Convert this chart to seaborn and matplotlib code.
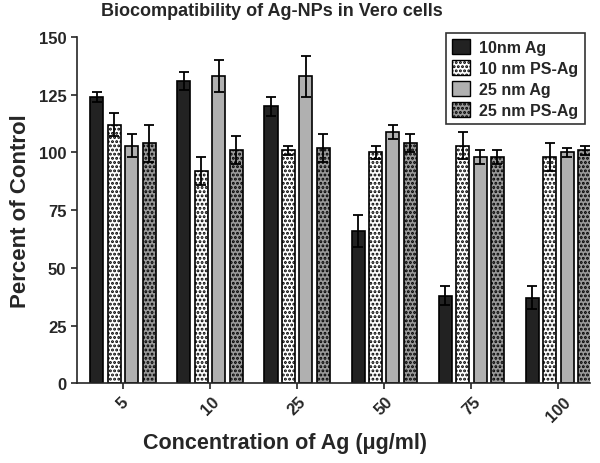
import pandas as pd
import seaborn as sns
import matplotlib.pyplot as plt
import numpy as np
from matplotlib.patches import Patch

# 数据
concentrations = ['5', '10', '25', '50', '75', '100']
series = ['10nm Ag', '10 nm PS-Ag', '25 nm Ag', '25 nm PS-Ag']
ag10 = [124, 131, 120, 66, 38, 37]
ps10 = [112, 92, 101, 100, 103, 98]
ag25 = [103, 133, 133, 109, 98, 100]
ps25 = [104, 101, 102, 104, 98, 101]
err_ag10 = [2, 4, 4, 7, 4, 5]
err_ps10 = [5, 6, 2, 3, 6, 6]
err_ag25 = [5, 7, 9, 3, 3, 2]
err_ps25 = [8, 6, 6, 4, 3, 2]

values = [ag10, ps10, ag25, ps25]
errors = [err_ag10, err_ps10, err_ag25, err_ps25]

rows = []
for name, vals, errs in zip(series, values, errors):
    for c, v, e in zip(concentrations, vals, errs):
        rows.append({'conc': c, 'group': name, 'value': v, 'err': e})
df = pd.DataFrame(rows)

sns.set_style('ticks')
plt.rcParams['font.family'] = ['Liberation Sans', 'DejaVu Sans']
plt.rcParams['font.weight'] = 'bold'
plt.rcParams['hatch.linewidth'] = 1.4

face_colors = ['#222222', '#ffffff', '#b0b0b0', '#9a9a9a']
hatches = ['', '....', '', '....']

fig = plt.figure(figsize=(6, 4.64), dpi=100)
ax = fig.add_axes([0.128, 0.172, 0.855, 0.746])

sns.barplot(data=df, x='conc', y='value', hue='group', order=concentrations,
            hue_order=series, palette=face_colors, gap=0.25, width=0.8,
            edgecolor='black', linewidth=1.2, errorbar=None, ax=ax, legend=False)

# 设置花纹并画误差线
for i, name in enumerate(series):
    container = ax.containers[i]
    errs = errors[i]
    for patch, e in zip(container.patches, errs):
        patch.set_facecolor(face_colors[i])
        patch.set_hatch(hatches[i])
        patch.set_edgecolor('black')
        xc = patch.get_x() + patch.get_width() / 2
        ax.errorbar(xc, patch.get_height(), yerr=e, color='black',
                    capsize=3.5, elinewidth=1.3, capthick=1.3, zorder=5)

ax.set_ylim(0, 150)
ax.set_xlim(-0.53, 5.36)
ax.set_yticks([0, 25, 50, 75, 100, 125, 150])
ax.set_xlabel('')
ax.set_ylabel('')
ax.tick_params(axis='both', labelsize=12, width=1.2, length=4)
for lbl in ax.get_xticklabels():
    lbl.set_rotation(45)
    lbl.set_fontweight('bold')
for lbl in ax.get_yticklabels():
    lbl.set_fontweight('bold')
for s in ['left', 'bottom']:
    ax.spines[s].set_linewidth(1.2)
sns.despine(ax=ax)

# 图例
handles = [Patch(facecolor=face_colors[i], hatch=hatches[i], edgecolor='black',
                 label=series[i]) for i in range(4)]
leg = fig.legend(handles=handles, loc='upper right', bbox_to_anchor=(0.988, 0.945),
                 fontsize=11.5, frameon=True, fancybox=False, handlelength=1.1,
                 handleheight=1.1, handletextpad=0.6, borderpad=0.4, labelspacing=0.3)
leg.get_frame().set_edgecolor('black')
leg.get_frame().set_linewidth(1.2)

fig.text(0.453, 0.975, 'Biocompatibility of Ag-NPs in Vero cells', ha='center',
         va='center', fontsize=13, fontweight='bold')
fig.text(0.475, 0.045, 'Concentration of Ag (\u03bcg/ml)', ha='center',
         va='center', fontsize=15.5, fontweight='bold')
fig.text(0.035, 0.545, 'Percent of Control', ha='center', va='center',
         rotation=90, fontsize=16, fontweight='bold')

plt.savefig('out.png', dpi=100)
